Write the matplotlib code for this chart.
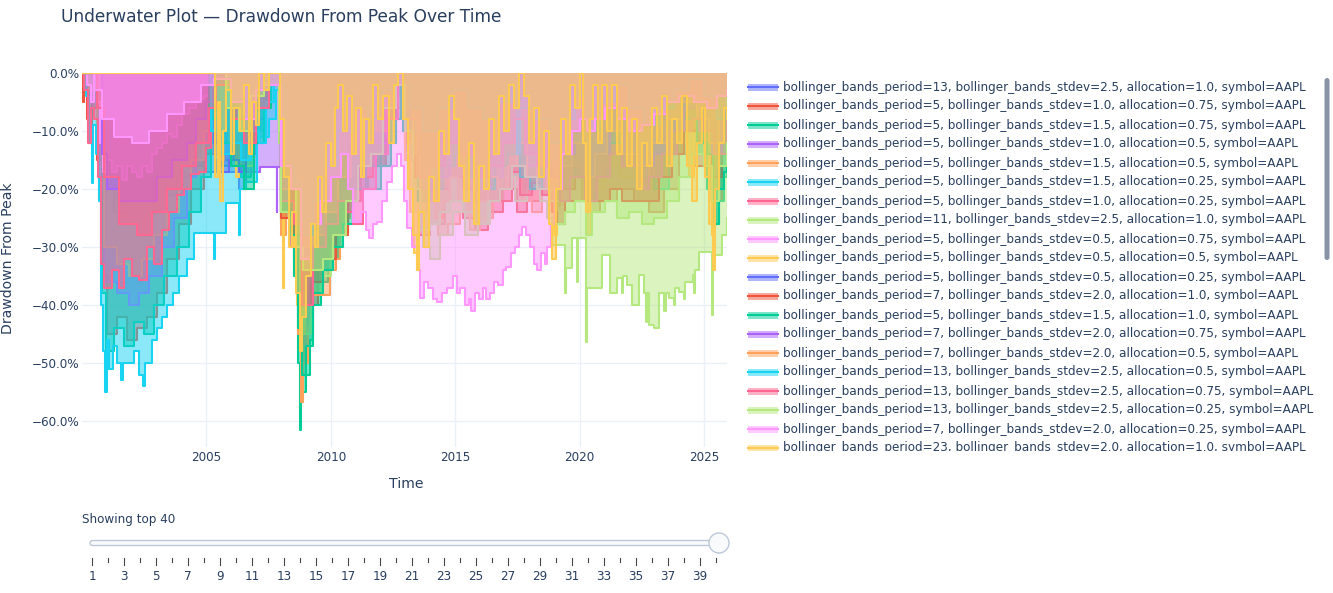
import numpy as np
import matplotlib.pyplot as plt
from matplotlib.patches import Rectangle, FancyBboxPatch, Circle

plt.rcParams["font.family"] = ["DejaVu Sans"]

# plotly default colour cycle
colors = ["#636EFA", "#EF553B", "#00CC96", "#AB63FA", "#FFA15A",
          "#19D3F3", "#FF6692", "#B6E880", "#FF97FF", "#FECB52"]

labels = [
    "bollinger_bands_period=13, bollinger_bands_stdev=2.5, allocation=1.0, symbol=AAPL",
    "bollinger_bands_period=5, bollinger_bands_stdev=1.0, allocation=0.75, symbol=AAPL",
    "bollinger_bands_period=5, bollinger_bands_stdev=1.5, allocation=0.75, symbol=AAPL",
    "bollinger_bands_period=5, bollinger_bands_stdev=1.0, allocation=0.5, symbol=AAPL",
    "bollinger_bands_period=5, bollinger_bands_stdev=1.5, allocation=0.5, symbol=AAPL",
    "bollinger_bands_period=5, bollinger_bands_stdev=1.5, allocation=0.25, symbol=AAPL",
    "bollinger_bands_period=5, bollinger_bands_stdev=1.0, allocation=0.25, symbol=AAPL",
    "bollinger_bands_period=11, bollinger_bands_stdev=2.5, allocation=1.0, symbol=AAPL",
    "bollinger_bands_period=5, bollinger_bands_stdev=0.5, allocation=0.75, symbol=AAPL",
    "bollinger_bands_period=5, bollinger_bands_stdev=0.5, allocation=0.5, symbol=AAPL",
    "bollinger_bands_period=5, bollinger_bands_stdev=0.5, allocation=0.25, symbol=AAPL",
    "bollinger_bands_period=7, bollinger_bands_stdev=2.0, allocation=1.0, symbol=AAPL",
    "bollinger_bands_period=5, bollinger_bands_stdev=1.5, allocation=1.0, symbol=AAPL",
    "bollinger_bands_period=7, bollinger_bands_stdev=2.0, allocation=0.75, symbol=AAPL",
    "bollinger_bands_period=7, bollinger_bands_stdev=2.0, allocation=0.5, symbol=AAPL",
    "bollinger_bands_period=13, bollinger_bands_stdev=2.5, allocation=0.5, symbol=AAPL",
    "bollinger_bands_period=13, bollinger_bands_stdev=2.5, allocation=0.75, symbol=AAPL",
    "bollinger_bands_period=13, bollinger_bands_stdev=2.5, allocation=0.25, symbol=AAPL",
    "bollinger_bands_period=7, bollinger_bands_stdev=2.0, allocation=0.25, symbol=AAPL",
    "bollinger_bands_period=23, bollinger_bands_stdev=2.0, allocation=1.0, symbol=AAPL",
]

# drawdown (%), (year, value)
s00 = [(2000.0, 0), (2000.4, -6), (2000.8, -20), (2001.3, -24), (2002.0, -25), (2002.6, -24),
       (2003.2, -21), (2003.8, -18), (2004.4, -16), (2005.0, -17), (2005.4, -15), (2005.9, -17),
       (2006.3, -20), (2006.6, -14), (2007.0, -10), (2007.4, -3), (2007.6, -2), (2008.0, -22),
       (2008.5, -30), (2008.9, -42), (2009.3, -34), (2009.8, -26), (2010.3, -18), (2010.8, -10),
       (2011.5, -12), (2012.0, -6), (2012.7, -1), (2013.0, -15), (2013.5, -22), (2014.0, -16),
       (2014.5, -10), (2015.0, -12), (2015.6, -16), (2016.3, -14), (2016.8, -8), (2017.4, -4),
       (2018.0, -8), (2018.8, -18), (2019.2, -14), (2019.6, -8), (2020.2, -14), (2020.6, -8),
       (2021.0, -10), (2022.0, -14), (2022.8, -18), (2023.4, -10), (2024.0, -5), (2024.5, -10),
       (2025.2, -20), (2025.6, -10), (2025.92, -6)]
s01 = [(2000.0, 0), (2000.05, -5), (2000.1, -3), (2000.2, -8), (2000.3, -12), (2000.4, -6),
       (2000.6, -15), (2000.8, -35), (2001.0, -45), (2001.4, -42), (2001.8, -46), (2002.2, -44),
       (2002.6, -42), (2003.0, -38), (2003.4, -32), (2003.9, -26), (2004.4, -20), (2004.9, -14),
       (2005.3, -6), (2005.5, -2), (2006.0, -8), (2006.4, -14), (2006.8, -6), (2007.2, -2),
       (2007.6, -2), (2008.0, -24), (2008.5, -32), (2008.8, -50), (2009.1, -40), (2009.5, -34),
       (2010.0, -28), (2010.5, -20), (2011.0, -14), (2011.6, -16), (2012.2, -8), (2012.7, -2),
       (2013.0, -12), (2013.5, -28), (2014.0, -26), (2014.6, -22), (2015.3, -25), (2015.8, -27),
       (2016.3, -24), (2016.9, -20), (2017.5, -24), (2017.9, -22), (2018.4, -20), (2018.9, -22),
       (2019.3, -20), (2019.8, -18), (2020.3, -24), (2020.8, -22), (2021.5, -20), (2022.2, -22),
       (2022.8, -24), (2023.4, -20), (2024.0, -14), (2024.6, -16), (2025.3, -22), (2025.7, -14),
       (2025.92, -10)]
s02 = [(2000.0, 0), (2000.3, -4), (2000.6, -12), (2000.8, -38), (2000.95, -48), (2001.3, -44),
       (2001.7, -47), (2002.1, -43), (2002.5, -45), (2002.9, -40), (2003.3, -35), (2003.8, -30),
       (2004.3, -24), (2004.8, -18), (2005.2, -12), (2005.6, -16), (2006.0, -12), (2006.4, -18),
       (2006.8, -10), (2007.2, -5), (2007.5, -2), (2007.9, -12), (2008.0, -26), (2008.2, -22),
       (2008.5, -35), (2008.7, -50), (2008.75, -61.5), (2008.8, -55), (2009.0, -52),
       (2009.15, -46), (2009.3, -40), (2009.6, -36), (2009.9, -32), (2010.3, -28), (2010.7, -22),
       (2011.1, -18), (2011.5, -20), (2012.0, -12), (2012.6, -4), (2012.9, -10), (2013.3, -22),
       (2013.8, -20), (2014.3, -16), (2014.9, -14), (2015.5, -18), (2016.0, -20), (2016.5, -18),
       (2017.0, -14), (2017.4, -18), (2017.8, -20), (2018.2, -16), (2018.6, -12), (2018.9, -14),
       (2019.0, -18), (2019.3, -16), (2019.8, -18), (2020.3, -22), (2020.7, -18), (2021.2, -14),
       (2021.8, -16), (2022.4, -18), (2023.0, -20), (2023.6, -14), (2024.2, -10), (2024.7, -14),
       (2025.1, -20), (2025.4, -26), (2025.6, -22), (2025.8, -18), (2025.92, -16)]
s03 = [(2000.0, 0), (2000.2, -3), (2000.5, -5), (2000.7, -20), (2000.9, -36), (2001.4, -38),
       (2001.9, -40), (2002.3, -38), (2002.7, -35), (2003.2, -30), (2003.7, -25), (2004.2, -18),
       (2004.6, -12), (2005.0, -10), (2005.3, -14), (2005.7, -12), (2006.1, -15), (2006.5, -17),
       (2006.9, -17), (2007.15, -16.2), (2007.8, -16.2), (2007.82, -24), (2007.85, -16.2),
       (2008.0, -24), (2008.4, -30), (2008.8, -42), (2009.2, -34), (2009.7, -28), (2010.2, -20),
       (2010.7, -14), (2011.2, -10), (2011.7, -14), (2012.3, -6), (2012.7, -2), (2013.0, -8),
       (2013.4, -18), (2013.9, -16), (2014.5, -12), (2015.0, -8), (2015.6, -12), (2016.2, -16),
       (2016.7, -10), (2017.3, -6), (2017.9, -10), (2018.5, -8), (2018.9, -14), (2019.3, -10),
       (2019.8, -6), (2020.2, -12), (2020.6, -4), (2021.3, -8), (2022.0, -12), (2022.7, -14),
       (2023.3, -8), (2024.0, -4), (2024.6, -8), (2025.2, -14), (2025.6, -6), (2025.92, -4)]
s04 = [(2000.0, 0), (2000.3, -3), (2000.6, -10), (2000.9, -30), (2001.4, -33), (2001.9, -35),
       (2002.4, -32), (2002.9, -28), (2003.4, -24), (2003.9, -20), (2004.4, -15), (2004.9, -10),
       (2005.3, -4), (2005.6, -10), (2006.1, -14), (2006.6, -9), (2007.0, -5), (2007.4, -2),
       (2007.9, -10), (2008.0, -28), (2008.2, -20), (2008.5, -30), (2008.7, -45), (2008.8, -56.7),
       (2008.9, -50), (2009.1, -44), (2009.3, -38.3), (2009.95, -34), (2010.2, -32),
       (2010.35, -28), (2010.5, -25), (2010.75, -20.5), (2011.15, -20), (2011.4, -16),
       (2011.8, -14), (2012.3, -8), (2012.7, -2), (2013.0, -10), (2013.3, -18), (2013.6, -27),
       (2013.9, -26), (2014.3, -28), (2014.7, -26), (2015.2, -24), (2015.6, -27), (2016.0, -25),
       (2016.5, -22), (2016.9, -20), (2017.3, -18), (2017.7, -22), (2018.1, -24), (2018.5, -21),
       (2018.9, -23), (2019.2, -18), (2019.6, -16), (2020.1, -22), (2020.5, -20), (2021.0, -16),
       (2021.6, -18), (2022.3, -20), (2022.9, -18), (2023.5, -14), (2024.1, -10), (2024.7, -12),
       (2025.2, -16), (2025.6, -10), (2025.92, -8)]
s05 = [(2000.0, 0), (2000.15, -4), (2000.3, -12), (2000.4, -19), (2000.45, -9), (2000.55, -14),
       (2000.7, -22), (2000.75, -40), (2000.85, -48), (2000.92, -55), (2001.0, -46),
       (2001.1, -51), (2001.25, -47), (2001.4, -50), (2001.55, -53), (2001.65, -50),
       (2001.9, -50), (2002.1, -48), (2002.3, -52), (2002.45, -54), (2002.55, -50),
       (2002.8, -46), (2003.0, -44), (2003.2, -42), (2003.4, -40), (2003.65, -38),
       (2003.9, -35), (2004.2, -32), (2004.5, -27.6), (2005.25, -27.6), (2005.3, -32),
       (2005.35, -27.6), (2005.8, -22.4), (2006.25, -22.4), (2006.3, -28), (2006.35, -20),
       (2006.6, -18.8), (2007.0, -18.8), (2007.05, -11), (2007.5, -8), (2007.8, -3),
       (2008.0, -20), (2008.4, -16), (2008.8, -30), (2009.2, -25), (2009.7, -18), (2010.2, -12),
       (2010.8, -6), (2011.5, -3), (2012.2, -2), (2013.0, -6), (2013.6, -10), (2014.3, -4),
       (2015.0, -2), (2015.7, -6), (2016.3, -8), (2017.0, -3), (2017.6, -12), (2017.8, -8),
       (2018.5, -4), (2019.0, -8), (2019.5, -3), (2020.2, -6), (2021.0, -2), (2022.0, -5),
       (2023.0, -3), (2024.0, -1), (2025.0, -4), (2025.92, -2)]
s06 = [(2000.0, 0), (2000.1, -3), (2000.25, -12), (2000.35, -6), (2000.5, -8), (2000.65, -18),
       (2000.75, -33), (2000.9, -37), (2001.2, -34), (2001.5, -37), (2001.7, -32), (2002.0, -35),
       (2002.3, -35.7), (2002.6, -30), (2002.9, -33), (2003.2, -27), (2003.5, -24),
       (2003.8, -21), (2004.1, -20), (2004.4, -17.5), (2004.7, -17), (2005.0, -13),
       (2005.2, -4), (2005.3, -1), (2005.8, -6), (2006.3, -10), (2006.8, -4), (2007.3, -2),
       (2007.9, -10), (2008.0, -22), (2008.3, -18), (2008.8, -30), (2009.3, -22), (2009.9, -15),
       (2010.5, -8), (2011.1, -4), (2011.7, -8), (2012.3, -2), (2012.8, -1), (2013.4, -8),
       (2014.0, -4), (2015.0, -2), (2016.0, -6), (2017.0, -2), (2018.0, -5), (2018.8, -10),
       (2019.4, -4), (2020.3, -6), (2021.0, -2), (2022.5, -4), (2023.5, -2), (2025.0, -3),
       (2025.92, -1)]
s07 = [(2000.0, 0), (2005.3, 0), (2005.8, -10), (2006.4, -16), (2006.9, -8), (2007.4, -2),
       (2007.9, -12), (2008.0, -25), (2008.3, -22), (2008.6, -30), (2008.7, -38), (2008.9, -45),
       (2009.2, -38), (2009.6, -35), (2010.0, -30), (2010.5, -24), (2010.9, -16), (2011.4, -10),
       (2011.9, -12), (2012.4, -6), (2012.8, -2), (2013.1, -12), (2013.4, -24), (2013.7, -30),
       (2014.0, -32), (2014.4, -28), (2014.9, -24), (2015.4, -28), (2015.9, -26), (2016.4, -22),
       (2016.9, -18), (2017.4, -22), (2017.9, -20), (2018.4, -22), (2018.7, -25),
       (2018.9, -29.7), (2019.4, -38), (2019.45, -33.6), (2019.7, -28.4), (2019.9, -36),
       (2019.95, -28.4), (2020.27, -46.4), (2020.3, -37), (2020.7, -37), (2020.9, -31.4),
       (2021.1, -31.4), (2021.2, -38), (2021.5, -35.3), (2021.7, -38), (2021.75, -35),
       (2021.9, -36.5), (2022.1, -40), (2022.4, -34.8), (2022.6, -38), (2022.65, -43),
       (2022.7, -38), (2022.8, -43.4), (2023.0, -44), (2023.2, -38), (2023.4, -41),
       (2023.45, -38), (2023.6, -38.8), (2023.8, -40), (2023.85, -37), (2024.0, -37.8),
       (2024.2, -39), (2024.25, -36), (2024.55, -34.8), (2024.6, -38), (2024.65, -34),
       (2024.8, -30.9), (2025.1, -30.9), (2025.3, -41.7), (2025.35, -31.4), (2025.7, -28),
       (2025.92, -25)]
s08 = [(2000.0, 0), (2000.2, -2), (2000.35, -5), (2000.5, -3), (2000.6, -5), (2000.72, -12),
       (2000.85, -17), (2001.0, -15), (2001.2, -17), (2001.4, -16), (2001.6, -18.5),
       (2001.8, -16), (2002.0, -17), (2002.2, -18), (2002.4, -16), (2002.6, -17), (2002.8, -14),
       (2003.0, -13), (2003.2, -12), (2003.4, -10.5), (2003.6, -11), (2003.8, -9), (2004.0, -7),
       (2004.3, -6), (2004.6, -4.5), (2004.9, -4), (2005.2, -2), (2005.3, -1), (2006.0, -3),
       (2006.5, -6), (2007.0, -2), (2007.6, -2), (2008.0, -12), (2008.5, -10), (2009.0, -14),
       (2009.5, -8), (2010.0, -4), (2010.6, -2), (2011.5, -5), (2012.2, -2), (2012.7, -2),
       (2013.3, -4), (2013.9, -6), (2014.6, -2), (2015.5, -3), (2016.4, -4), (2017.3, -2),
       (2018.2, -3), (2018.9, -6), (2019.3, -4), (2019.8, -6), (2020.2, -8.5), (2020.6, -9),
       (2021.0, -8.5), (2021.5, -9), (2022.0, -8.5), (2022.5, -9), (2022.8, -7), (2023.2, -6),
       (2023.6, -5), (2024.0, -4.5), (2024.5, -4), (2025.0, -3), (2025.6, -2.6), (2025.92, -2)]
s09 = [(2000.0, 0), (2005.2, 0), (2005.3, -8), (2005.4, -2), (2005.6, -15), (2005.7, -4),
       (2005.9, -12), (2006.0, -2), (2006.2, -18), (2006.3, -6), (2006.5, -10), (2006.6, -1),
       (2006.8, -8), (2006.9, 0), (2007.2, -4), (2007.4, 0), (2007.9, -10), (2008.0, -25),
       (2008.07, -37), (2008.12, -20), (2008.2, -12), (2008.3, -22), (2008.5, -30),
       (2008.65, -40), (2008.8, -45), (2008.95, -38), (2009.1, -30), (2009.3, -22),
       (2009.45, -28), (2009.6, -16), (2009.8, -22), (2009.9, -10), (2010.1, -4), (2010.3, -12),
       (2010.45, -2), (2010.6, -8), (2010.8, -2), (2011.0, -10), (2011.2, -4), (2011.4, -14),
       (2011.6, -6), (2011.8, -12), (2012.0, -2), (2012.3, -6), (2012.5, 0), (2012.8, -4),
       (2013.0, -15), (2013.2, -24), (2013.35, -31), (2013.5, -20), (2013.7, -26), (2013.9, -14),
       (2014.1, -8), (2014.3, -16), (2014.5, -4), (2014.7, -10), (2014.9, 0), (2015.1, -12),
       (2015.3, -6), (2015.5, -18), (2015.7, -10), (2015.9, -22), (2016.1, -12), (2016.3, -16),
       (2016.5, -6), (2016.7, -10), (2016.9, -2), (2017.1, -6), (2017.3, 0), (2017.6, -8),
       (2017.8, -2), (2018.0, -10), (2018.2, -4), (2018.4, -16), (2018.6, -8), (2018.8, -22),
       (2018.95, -28), (2019.1, -14), (2019.3, -4), (2019.5, -10), (2019.7, 0), (2020.0, -6),
       (2020.2, -20), (2020.3, -28), (2020.45, -12), (2020.6, -2), (2020.8, -8), (2021.0, 0),
       (2021.2, -6), (2021.4, -2), (2021.6, -10), (2021.8, -4), (2022.0, -12), (2022.2, -6),
       (2022.4, -16), (2022.6, -10), (2022.8, -18), (2023.0, -8), (2023.2, -14), (2023.4, -6),
       (2023.6, -10), (2023.8, -2), (2024.0, -6), (2024.2, -12), (2024.4, -18), (2024.6, -10),
       (2024.8, -4), (2025.0, -14), (2025.2, -22), (2025.3, -28), (2025.45, -16), (2025.6, -8),
       (2025.75, -4), (2025.92, -2)]
s10 = [(2000.0, 0), (2005.0, 0), (2005.3, -12), (2005.5, -17), (2005.9, -15),
       (2006.3, -17), (2006.6, -12), (2007.0, -8), (2007.4, -2), (2007.6, -2), (2008.0, -16),
       (2008.2, -10), (2008.8, -20), (2009.3, -14), (2009.9, -8), (2010.5, -4), (2011.2, -2),
       (2012.0, -2), (2013.0, -6), (2013.6, -8), (2014.2, -4), (2015.0, -2), (2016.0, -6),
       (2017.0, -2), (2018.0, -4), (2018.9, -8), (2019.5, -3), (2020.3, -6), (2021.0, -2),
       (2022.5, -6), (2023.5, -3), (2024.5, -2), (2025.3, -6), (2025.92, -2)]
s11 = [(2000.0, 0), (2005.6, 0), (2006.2, -8), (2006.6, -12), (2007.0, -4), (2007.5, -2),
       (2008.0, -25), (2008.5, -28), (2008.85, -40), (2009.2, -36), (2009.7, -32), (2010.2, -28),
       (2010.7, -22), (2011.2, -18), (2011.7, -16), (2012.2, -8), (2012.7, -2), (2013.0, -8),
       (2013.4, -18), (2013.8, -22), (2014.3, -20), (2014.8, -18), (2015.3, -20), (2015.8, -22),
       (2016.3, -22), (2016.8, -22), (2017.3, -17), (2017.6, -21), (2018.1, -19), (2018.5, -21),
       (2018.9, -24), (2019.1, -26), (2019.4, -22), (2019.8, -22), (2020.3, -22), (2020.7, -22),
       (2021.2, -20), (2021.7, -22), (2022.2, -22), (2022.7, -22), (2023.2, -18), (2023.7, -14),
       (2024.2, -10), (2024.8, -12), (2025.3, -18), (2025.7, -12), (2025.92, -10)]
s12 = [(2000.0, 0), (2005.1, -8), (2005.5, -12), (2006.0, -16), (2006.5, -20), (2006.9, -12),
       (2007.3, -6), (2007.6, -2), (2008.0, -24), (2008.4, -28), (2008.7, -44), (2008.85, -52),
       (2009.0, -47), (2009.3, -38), (2009.7, -34), (2010.1, -30), (2010.5, -26), (2010.9, -20),
       (2011.4, -16), (2011.9, -16), (2012.4, -8), (2012.8, -2), (2013.1, -10), (2013.5, -22),
       (2014.0, -20), (2014.5, -16), (2015.0, -14), (2015.5, -18), (2016.0, -20), (2016.6, -16),
       (2017.1, -14), (2017.6, -18), (2018.0, -20), (2018.5, -16), (2018.8, -12),
       (2018.95, -15), (2019.1, -12), (2019.6, -12), (2020.2, -18), (2020.6, -14), (2021.2, -12),
       (2021.8, -14), (2022.4, -16), (2023.0, -14), (2023.6, -10), (2024.2, -8), (2024.7, -12),
       (2025.1, -14), (2025.35, -22), (2025.45, -26), (2025.6, -20), (2025.8, -17),
       (2025.92, -16)]
s13 = [(2000.0, 0), (2000.8, -14), (2001.0, -20), (2001.5, -22), (2002.3, -22), (2003.0, -18),
       (2003.6, -15), (2004.2, -12), (2004.6, -8), (2005.0, -5), (2005.3, -2), (2006.0, -6),
       (2006.5, -10), (2007.0, -3), (2007.5, -2),
       (2008.0, -20), (2008.5, -20), (2008.85, -34), (2009.3, -28), (2009.8, -22), (2010.3, -16),
       (2010.8, -12), (2011.3, -8), (2011.8, -12), (2012.3, -6), (2012.7, -2), (2013.2, -10),
       (2013.7, -20), (2014.2, -18), (2014.8, -12), (2015.3, -14), (2015.9, -20), (2016.4, -18),
       (2016.9, -12), (2017.4, -8), (2017.9, -16), (2018.4, -18), (2018.9, -16), (2019.3, -14),
       (2019.8, -12), (2020.2, -18), (2020.6, -14), (2021.2, -10), (2021.8, -14), (2022.4, -16),
       (2023.0, -14), (2023.6, -10), (2024.2, -6), (2024.8, -10), (2025.3, -14), (2025.7, -8),
       (2025.92, -6)]
s14 = [(2000.0, 0), (2005.3, 0), (2006.0, -4), (2006.5, -7), (2007.0, -2), (2007.5, -2),
       (2008.0, -20), (2008.5, -18), (2008.85, -30), (2009.3, -28), (2009.8, -24), (2010.3, -18),
       (2010.8, -14), (2011.3, -8), (2011.8, -10), (2012.3, -5), (2012.7, -1), (2013.0, -6),
       (2013.3, -14), (2013.6, -24), (2013.9, -22), (2014.2, -25), (2014.5, -22), (2014.8, -18),
       (2015.1, -22), (2015.5, -24), (2015.9, -22), (2016.3, -18), (2016.7, -20), (2017.1, -16),
       (2017.5, -12), (2017.9, -18), (2018.3, -16), (2018.7, -20), (2019.0, -22), (2019.3, -16),
       (2019.7, -12), (2020.2, -18), (2020.6, -14), (2021.1, -10), (2021.7, -14), (2022.3, -16),
       (2022.9, -12), (2023.5, -8), (2024.1, -5), (2024.7, -8), (2025.2, -12), (2025.6, -6),
       (2025.92, -4)]
s15 = [(2000.0, 0), (2005.2, -10), (2005.6, -14), (2006.0, -12), (2006.4, -15),
       (2006.8, -10), (2007.1, -12), (2007.4, -5), (2007.7, -2), (2008.1, -16), (2008.5, -20),
       (2008.85, -28), (2009.3, -22), (2009.8, -16), (2010.3, -10), (2010.9, -6), (2011.5, -8),
       (2012.1, -3), (2012.7, -2), (2013.2, -6), (2013.7, -10), (2014.3, -6), (2014.9, -3),
       (2015.5, -6), (2016.1, -8), (2016.7, -5), (2017.3, -2), (2017.5, -14), (2017.6, -6),
       (2018.2, -8), (2018.8, -12), (2019.3, -8), (2019.8, -4), (2020.3, -10), (2020.8, -5),
       (2021.4, -2), (2022.0, -6), (2022.6, -9), (2023.2, -6), (2023.8, -3), (2024.4, -1),
       (2025.0, -4), (2025.5, -8), (2025.92, -4)]
s16 = [(2000.0, 0), (2000.6, -6), (2000.9, -18), (2001.5, -26), (2002.2, -28), (2002.8, -24),
       (2003.4, -20), (2004.0, -16), (2004.6, -12), (2005.1, -6), (2005.4, -2), (2006.0, -8),
       (2006.5, -12), (2007.0, -6), (2007.5, -2), (2008.0, -22), (2008.5, -26), (2008.85, -40),
       (2009.3, -30), (2009.8, -26), (2010.3, -22), (2010.6, -24), (2010.9, -26), (2011.3, -20),
       (2011.8, -14), (2012.3, -8), (2012.7, -2), (2013.0, -8), (2013.5, -18), (2014.0, -16),
       (2014.6, -12), (2015.2, -14), (2015.8, -18), (2016.4, -16), (2016.9, -12), (2017.4, -8),
       (2017.8, -14), (2018.3, -16), (2018.8, -18), (2019.2, -22), (2019.6, -18), (2020.2, -22),
       (2020.7, -18), (2021.2, -14), (2021.7, -16), (2022.3, -20), (2022.8, -18), (2023.3, -14),
       (2023.9, -10), (2024.5, -8), (2025.0, -10), (2025.4, -14), (2025.92, -8)]
s17 = [(2000.0, 0), (2005.3, 0), (2005.8, -6), (2006.3, -10), (2006.8, -4), (2007.3, -2),
       (2007.9, -10), (2008.0, -24), (2008.3, -20), (2008.6, -30), (2008.9, -34), (2009.3, -34),
       (2009.7, -32), (2010.1, -28), (2010.6, -22), (2011.1, -16), (2011.6, -14), (2012.1, -6),
       (2012.6, -2), (2013.0, -10), (2013.3, -20), (2013.6, -27), (2014.0, -26), (2014.4, -24),
       (2014.8, -22), (2015.3, -24), (2015.8, -26), (2016.3, -22), (2016.8, -20), (2017.3, -16),
       (2017.8, -18), (2018.3, -20), (2018.8, -22), (2019.0, -26), (2019.4, -24), (2019.8, -22),
       (2020.27, -28), (2020.5, -24), (2021.0, -22), (2021.5, -25), (2022.0, -24), (2022.5, -26),
       (2023.0, -25), (2023.5, -22), (2024.0, -18), (2024.5, -14), (2025.0, -16), (2025.3, -22),
       (2025.6, -16), (2025.92, -12)]
s18 = [(2000.0, 0), (2000.5, -3), (2000.8, -8), (2001.3, -11), (2002.0, -12), (2002.7, -10),
       (2003.4, -7), (2004.1, -5), (2004.8, -2), (2005.3, -1), (2006.0, -5), (2006.5, -8),
       (2007.0, -3), (2007.5, -2), (2008.0, -16), (2008.4, -20), (2008.8, -32), (2009.2, -26),
       (2009.6, -22), (2010.0, -18), (2010.4, -14), (2010.7, -20), (2010.9, -25.7), (2011.2, -24),
       (2011.4, -27), (2011.55, -28.5), (2011.7, -26), (2011.85, -25.7), (2012.05, -22),
       (2012.25, -18.8), (2012.45, -16), (2012.65, -14), (2012.8, -16), (2012.95, -22),
       (2013.05, -26.7), (2013.25, -30), (2013.45, -34), (2013.6, -38.8), (2013.75, -36),
       (2013.9, -37), (2014.1, -39), (2014.25, -39.5), (2014.45, -38), (2014.65, -37),
       (2014.9, -35), (2015.05, -38), (2015.2, -37), (2015.4, -40), (2015.55, -39),
       (2015.65, -41), (2015.8, -38), (2015.95, -39), (2016.1, -37), (2016.25, -39),
       (2016.4, -38), (2016.55, -36), (2016.7, -36.5), (2016.9, -34), (2017.05, -33.5),
       (2017.25, -31), (2017.4, -30), (2017.55, -28), (2017.7, -26.5), (2017.85, -28),
       (2018.0, -30), (2018.15, -33), (2018.3, -34), (2018.45, -31), (2018.6, -33),
       (2018.7, -30), (2018.85, -26), (2019.0, -20), (2019.3, -14), (2019.7, -10), (2020.0, -8),
       (2020.3, -10), (2020.6, -8), (2021.0, -6), (2021.5, -8), (2022.0, -10), (2022.5, -9),
       (2023.0, -7), (2023.5, -5), (2024.0, -4), (2024.6, -5), (2025.1, -6), (2025.5, -4),
       (2025.92, -3)]
s19 = [(2000.0, 0), (2005.25, 0), (2005.35, -18), (2005.45, -5), (2005.55, -22), (2005.65, -10),
       (2005.8, -3), (2006.0, -14), (2006.1, -6), (2006.35, -10), (2006.5, -2), (2006.7, -14),
       (2006.85, -5), (2007.0, -9), (2007.1, 0), (2007.3, -3), (2007.5, 0), (2007.95, -8),
       (2008.1, -18), (2008.3, -30), (2008.45, -24), (2008.6, -38), (2008.75, -48),
       (2008.85, -42), (2009.0, -35), (2009.2, -26), (2009.35, -30), (2009.5, -18),
       (2009.65, -24), (2009.8, -12), (2010.0, -16), (2010.15, -6), (2010.3, -2), (2010.5, -10),
       (2010.65, -4), (2010.85, -14), (2011.0, -6), (2011.2, -18), (2011.35, -8), (2011.55, -12),
       (2011.7, -2), (2011.9, -8), (2012.1, -4), (2012.35, -12), (2012.55, -2), (2012.7, 0),
       (2012.9, -8), (2013.1, -20), (2013.3, -28), (2013.45, -34), (2013.55, -24), (2013.75, -30),
       (2013.95, -18), (2014.15, -22), (2014.35, -10), (2014.55, -14), (2014.75, -4),
       (2014.95, -8), (2015.15, -16), (2015.35, -22), (2015.55, -12), (2015.75, -26),
       (2015.95, -16), (2016.15, -20), (2016.35, -8), (2016.55, -14), (2016.75, -4),
       (2016.95, -10), (2017.15, -2), (2017.35, -6), (2017.55, 0), (2017.75, -4), (2017.95, -12),
       (2018.15, -6), (2018.35, -18), (2018.55, -10), (2018.75, -26), (2018.9, -32),
       (2019.05, -20), (2019.25, -8), (2019.45, -14), (2019.6, -2), (2019.8, -6), (2020.0, 0),
       (2020.15, -12), (2020.25, -24), (2020.4, -8), (2020.55, -2), (2020.75, -12), (2020.9, -2),
       (2021.1, -10), (2021.3, -2), (2021.5, -14), (2021.7, -6), (2021.9, -16), (2022.1, -8),
       (2022.3, -20), (2022.5, -12), (2022.7, -16), (2022.9, -6), (2023.1, -12), (2023.3, -4),
       (2023.5, -16), (2023.7, -8), (2023.9, -12), (2024.1, -4), (2024.3, -16), (2024.5, -22),
       (2024.7, -12), (2024.9, -6), (2025.05, -18), (2025.2, -26), (2025.35, -34),
       (2025.45, -20), (2025.6, -12), (2025.8, -6), (2025.92, -8)]

series = [s00, s01, s02, s03, s04, s05, s06, s07, s08, s09,
          s10, s11, s12, s13, s14, s15, s16, s17, s18, s19]

x_ticks = [2005, 2010, 2015, 2020, 2025]
y_ticks = [0, -10, -20, -30, -40, -50, -60]
slider_steps = list(range(1, 41))

W, H = 1333, 593
TXT = "#2a3f5f"
PX = 0.72  # px -> pt at dpi 100


def fx(px):
    return px / W


def fy(py):
    return 1 - py / H


fig = plt.figure(figsize=(W / 100, H / 100), dpi=100)

# ---- main plot: each trace = fill to zero + line, drawn in trace order
ax = fig.add_axes([fx(82), fy(447), fx(727) - fx(82), fy(73) - fy(447)])
for i, pts in enumerate(series):
    t = np.array([p[0] for p in pts])
    v = np.array([p[1] for p in pts])
    c = colors[i % 10]
    ax.fill_between(t, v, 0, step="post", color=c, alpha=0.5, lw=0, zorder=2)
    ax.step(t, v, where="post", color=c, lw=1.5, zorder=2)

ax.set_xlim(2000.0, 2025.92)
ax.set_ylim(-64.5, 0)
ax.set_xticks(x_ticks)
ax.set_xticklabels([str(x) for x in x_ticks])
ax.set_yticks(y_ticks)
ax.set_yticklabels([f"{v:.1f}%".replace("-", "\u2212") for v in y_ticks])
ax.grid(color="#EBF0F8", lw=1)
ax.set_axisbelow(True)
for s in ax.spines.values():
    s.set_visible(False)
ax.tick_params(length=0, labelsize=12 * PX, labelcolor=TXT)
ax.tick_params(axis="y", pad=2)
ax.tick_params(axis="x", pad=3)

fig.text(fx(61), fy(17), "Underwater Plot \u2014 Drawdown From Peak Over Time",
         fontsize=17 * PX, color=TXT, va="center", ha="left")
fig.text(fx(406), fy(484), "Time", fontsize=14 * PX, color=TXT, ha="center", va="center")
fig.text(fx(8), fy(258), "Drawdown From Peak", fontsize=14 * PX, color=TXT,
         rotation=90, ha="center", va="center")

# ---- legend (scrolling box, cut at the bottom)
lax = fig.add_axes([fx(740), fy(451), fx(1322) - fx(740), fy(76) - fy(451)])
lax.set_xlim(740, 1322)
lax.set_ylim(451, 76)
lax.axis("off")
for i, lab in enumerate(labels):
    y = 87 + 19 * i
    c = colors[i % 10]
    lax.add_patch(Rectangle((748, y - 3.5), 30, 7, color=c, alpha=0.5, lw=0, clip_on=True))
    lax.plot([748, 778], [y, y], color=c, lw=1.5, clip_on=True)
    lax.text(783, y, lab, fontsize=12 * PX, color=TXT, va="center", ha="left", clip_on=True)

# ---- overlay in pixel coordinates: scrollbar and slider
over = fig.add_axes([0, 0, 1, 1])
over.set_xlim(0, W)
over.set_ylim(H, 0)
over.axis("off")
over.add_patch(FancyBboxPatch((1324.5, 78), 5, 182, boxstyle="round,pad=0,rounding_size=2.5",
                              fc="#8a93a6", ec="none"))

over.text(82, 520, f"Showing top {slider_steps[-1]}", fontsize=12 * PX, color=TXT,
          va="center", ha="left")
over.add_patch(FancyBboxPatch((90, 540.5), 630, 5, boxstyle="round,pad=0,rounding_size=2.5",
                              fc="#f8fafc", ec="#bec8d9", lw=1))
over.add_patch(Circle((719, 543), 10, fc="#f8fafc", ec="#bec8d9", lw=1, zorder=5))
for k in slider_steps:
    x = 92 + 16 * (k - 1)
    if k % 2 == 1:
        over.plot([x, x], [558, 565], color="#444444", lw=0.8)
        over.text(x, 577, str(k), fontsize=12 * PX, color=TXT, ha="center", va="center")
    else:
        over.plot([x, x], [558, 562], color="#444444", lw=0.8)

fig.savefig("out.png", dpi=100)
